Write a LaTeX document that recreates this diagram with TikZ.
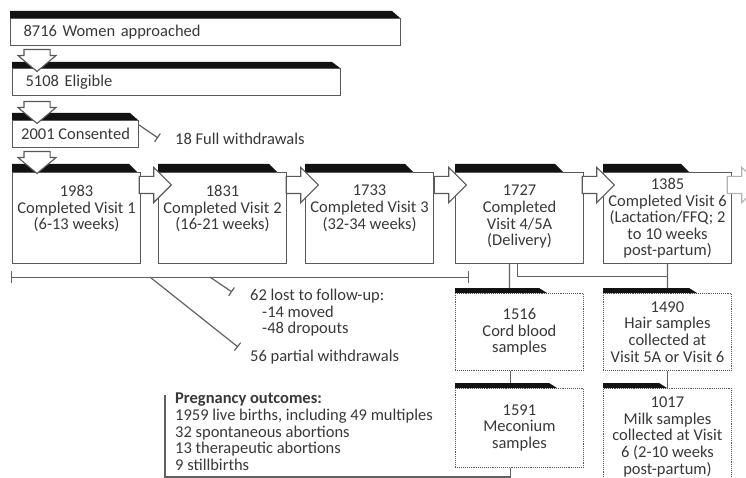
\documentclass[tikz,border=0pt]{standalone}
\usepackage{fontspec}
\setmainfont{Carlito}
\usetikzlibrary{shapes.arrows,arrows.meta}
\definecolor{boxline}{gray}{0.35}
\definecolor{txt}{gray}{0.22}
\definecolor{band}{gray}{0.07}
% black tab on top of a box: [height]{node}{length}
\newcommand\tabband[3][7]{%
  \fill[band] (#2.north west) -- ++(0,-#1) -- ++(#3-8,0) -- ++(8,#1) -- cycle;}
\tikzset{
  base/.style={font=\fontsize{16.5}{16.6}\selectfont, text=txt},
  topbox/.style={base, draw=boxline, line width=1.1pt, anchor=north west,
    minimum height=27pt, inner xsep=13pt, align=left},
  visitbox/.style={draw=boxline, line width=1.1pt, anchor=north west,
    minimum width=128pt, minimum height=91pt},
  vtext/.style={base, align=center, anchor=north, inner sep=0pt},
  samplebox/.style={base, draw=boxline, densely dotted, line width=0.9pt,
    anchor=north west, minimum width=128pt, align=center},
  downarrow/.style={single arrow, draw=boxline, line width=1.1pt, fill=white,
    rotate=-90, minimum height=22pt, inner xsep=0pt, inner ysep=12.5pt,
    single arrow head extend=6pt, single arrow tip angle=100},
  rightarrow/.style={single arrow, draw=boxline, line width=1.1pt, fill=white,
    minimum height=32pt, inner xsep=0pt, inner ysep=8pt,
    single arrow head extend=9pt},
  conn/.style={draw=black!62, line width=1.2pt},
  stop/.style={-{Bar[width=10pt]}}
}
\begin{document}
\begin{tikzpicture}[x=1pt, y=-1pt]
\clip (0,0) rectangle (746,478);

% enrolment
\node[topbox, minimum width=390pt, text width=364pt] (approach) at (10,18) {8716 Women approached};
\node[topbox, minimum width=328pt, text width=302pt] (eligible) at (12,68) {5108 Eligible};
\node[topbox, minimum width=126pt, inner xsep=4pt] (consent) at (12,120) {2001 Consented};

% visits
\node[visitbox] (v1) at (12,172) {};
\node[visitbox] (v2) at (158,172) {};
\node[visitbox] (v3) at (305,172) {};
\node[visitbox] (v4) at (455,172) {};
\node[visitbox] (v5) at (603,172) {};
\node[vtext] (t1) at ([yshift=-13pt]v1.north) {1983\\Completed Visit 1\\(6-13 weeks)};
\node[vtext] (t2) at ([yshift=-13pt]v2.north) {1831\\Completed Visit 2\\(16-21 weeks)};
\node[vtext] (t3) at ([yshift=-13pt]v3.north) {1733\\Completed Visit 3\\(32-34 weeks)};
\node[vtext] (t4) at ([yshift=-13pt]v4.north) {1727\\Completed\\Visit 4/5A\\(Delivery)};
\node[vtext] (t5) at ([yshift=-6pt]v5.north) {1385\\Completed Visit 6\\(Lactation/FFQ; 2\\to 10 weeks\\post-partum)};

% samples
\node[samplebox, minimum height=77pt] (cord) at (455,293) {1516\\Cord blood\\samples};
\node[samplebox, minimum height=77pt] (hair) at (603,293) {1490\\Hair samples\\collected at\\Visit 5A or Visit 6};
\node[samplebox, minimum height=79pt] (mecon) at (455,388) {1591\\Meconium\\samples};
\node[samplebox, minimum height=97pt] (milk) at (603,388) {1017\\Milk samples\\collected at Visit\\6 (2-10 weeks\\post-partum)};

% links
\draw[conn] ([xshift=-10pt]v4.south) -- ([xshift=-10pt]cord.north);
\draw[conn] ([xshift=-2pt]v4.south) |- ([yshift=-12pt]v5.south);
\draw[conn] (v5.south) -- (hair.north);
\draw[conn] ([xshift=-9pt]cord.south) -- ([xshift=-9pt]mecon.north);
\draw[conn] (hair.south) -- (milk.north);
\draw[conn] ([xshift=-9pt]mecon.south) -- ++(0,9) -| (165,395);

% losses
\coordinate (fwend) at (158,138);
\draw[conn, stop] ([yshift=-5pt]consent.north east) -- (fwend);
\node[base, anchor=west, inner sep=0pt] (fullw) at (175,139) {18 Full withdrawals};

\coordinate (brl) at ([xshift=-1pt, yshift=-13pt]v1.south west);
\coordinate (brr) at ([xshift=14pt, yshift=-13pt]v4.south west);
\draw[conn, {Bar[width=12pt]}-{Bar[width=12pt]}] (brl) -- (brr);
\coordinate (lostfrom) at ([xshift=199pt]brl);
\coordinate (lostend) at (232,292);
\coordinate (partfrom) at ([xshift=139pt]brl);
\coordinate (partend) at (238,347);
\draw[conn, stop] (lostfrom) -- (lostend);
\draw[conn, stop] (partfrom) -- (partend);
\node[base, align=left, anchor=north west, inner sep=0pt] (lost) at (250,289)
  {62 lost to follow-up:\\\hspace*{12pt}-14 moved\\\hspace*{12pt}-48 dropouts};
\node[base, anchor=west, inner sep=0pt] (partial) at (250,357) {56 partial withdrawals};

\node[base, align=left, anchor=north west, inner sep=0pt] (preg) at (175,393)
  {\textbf{Pregnancy outcomes:}\\1959 live births, including 49 multiples\\32 spontaneous abortions\\13 therapeutic abortions\\9 stillbirths};

% tabs
\tabband{approach}{390}
\tabband[6]{eligible}{328}
\tabband{consent}{126}
\tabband[8]{v1}{125}
\tabband[8]{v2}{119}
\tabband[8]{v3}{108}
\tabband[8]{v4}{108}
\tabband[8]{v5}{86}
\tabband[5]{cord}{92}
\tabband[5]{hair}{94}
\tabband[5]{mecon}{102}
\tabband[5]{milk}{64}

% block arrows
\node[downarrow] (d1) at (37,55) {};
\node[downarrow] (d2) at (37,107) {};
\node[downarrow] (d3) at (37,157) {};
\node[rightarrow] (r1) at (151,185) {};
\node[rightarrow] (r2) at (298,185) {};
\node[rightarrow] (r3) at (446,185) {};
\node[rightarrow] (r4) at (594,185) {};
\node[rightarrow, draw=black!30] (r5) at (739,185) {};
\end{tikzpicture}
\end{document}
